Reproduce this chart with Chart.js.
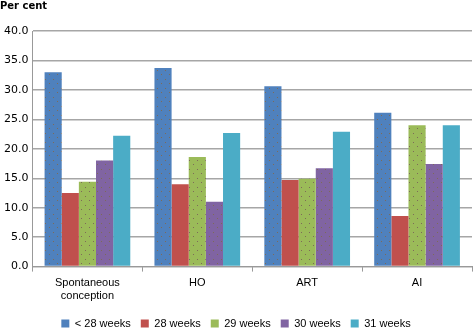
<!DOCTYPE html>
<html>
<head>
<meta charset="utf-8">
<script src="https://cdn.jsdelivr.net/npm/chart.js@4/dist/chart.umd.min.js"></script>
<style>
  html, body { margin: 0; padding: 0; background: #fff; }
  #wrap { width: 473px; height: 328px; position: relative; }
</style>
</head>
<body>
<div id="wrap"><canvas id="chart"></canvas></div>
<script>
const categories = [["Spontaneous", "conception"], "HO", "ART", "AI"]
const seriesNames = ["< 28 weeks", "28 weeks", "29 weeks", "30 weeks", "31 weeks"]
const under28 = [33.0, 33.7, 30.6, 26.1]
const week28 = [12.5, 14.0, 14.7, 8.6]
const week29 = [14.4, 18.6, 14.9, 24.0]
const week30 = [18.0, 11.0, 16.7, 17.4]
const week31 = [22.2, 22.7, 22.9, 24.0]
const colors = ["#4F81BD", "#C0504D", "#9BBB59", "#8064A2", "#4BACC6"]
const dotted = [true, false, true, true, false]

const font = "'Liberation Sans', Arial, sans-serif"

// sparse speckle fill like the original bars
function speckle(base, dot) {
  const c = document.createElement("canvas")
  c.width = 8
  c.height = 9
  const g = c.getContext("2d")
  g.fillStyle = base
  g.fillRect(0, 0, 8, 9)
  g.fillStyle = dot
  g.fillRect(1, 2, 1, 1)
  g.fillRect(5, 7, 1, 1)
  return g.createPattern(c, "repeat")
}

const perCentLabel = {
  id: "perCentLabel",
  afterDraw(chart) {
    const ctx = chart.ctx
    ctx.save()
    ctx.font = "bold 10px 'DejaVu Sans', sans-serif"
    ctx.fillStyle = "#000"
    ctx.textBaseline = "top"
    ctx.fillText("Per cent", 0, 1)
    ctx.restore()
  }
}

const values = [under28, week28, week29, week30, week31]
const datasets = values.map((data, i) => ({
  label: seriesNames[i],
  data: data,
  backgroundColor: dotted[i] ? speckle(colors[i], "#7d6b58") : colors[i],
  borderWidth: 0,
  categoryPercentage: 0.78,
  barPercentage: 1.0,
}))

new Chart(document.getElementById("chart"), {
  type: "bar",
  data: { labels: categories, datasets: datasets },
  options: {
    responsive: true,
    maintainAspectRatio: false,
    animation: false,
    layout: { padding: { top: 31, right: 1, left: 0, bottom: -11 } },
    plugins: {
      legend: {
        position: "bottom",
        labels: {
          boxWidth: 8,
          boxHeight: 8,
          color: "#000",
          font: { family: font, size: 11 },
          padding: 10,
          generateLabels(chart) {
            return chart.data.datasets.map((ds, i) => ({
              text: ds.label,
              fillStyle: colors[i],
              strokeStyle: colors[i],
              lineWidth: 0,
              datasetIndex: i,
            }))
          },
        },
      },
      tooltip: { enabled: false },
    },
    scales: {
      x: {
        grid: {
          offset: true,
          drawOnChartArea: false,
          tickLength: 5,
          color: "#999",
        },
        border: { color: "#999", width: 1 },
        ticks: {
          color: "#000",
          font: { family: font, size: 11 },
          maxRotation: 0,
          padding: 5,
        },
      },
      y: {
        min: 0,
        max: 40,
        grid: { color: "#a6a6a6", lineWidth: 1.5, drawTicks: false },
        border: { color: "#999", width: 1 },
        ticks: {
          stepSize: 5,
          color: "#000",
          font: { family: "'DejaVu Sans', sans-serif", size: 11 },
          padding: 4,
          callback: v => v.toFixed(1),
        },
      },
    },
  },
  plugins: [perCentLabel],
})
</script>
</body>
</html>
